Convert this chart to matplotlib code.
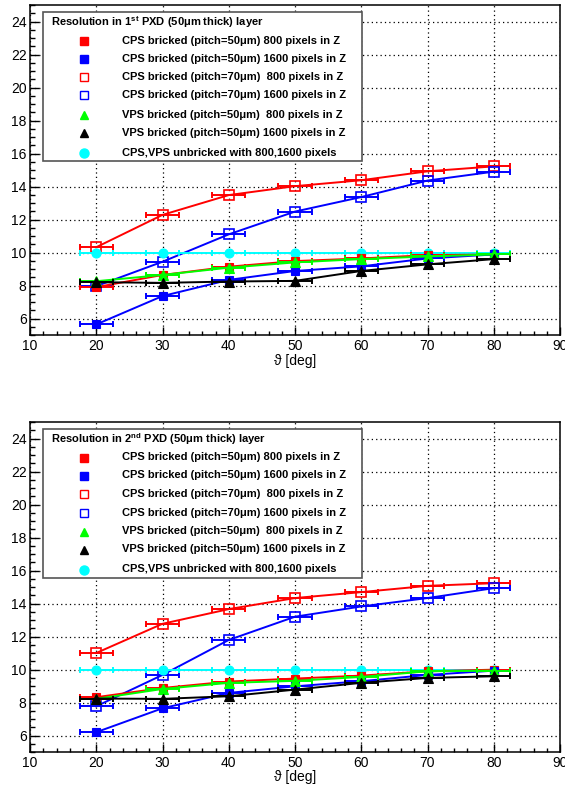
import matplotlib
matplotlib.use('Agg')
import matplotlib.pyplot as plt
from matplotlib.patches import Rectangle
from matplotlib.ticker import MultipleLocator

plt.rcParams['font.family'] = ['Liberation Sans', 'DejaVu Sans']
plt.rcParams['mathtext.fontset'] = 'custom'
plt.rcParams['mathtext.rm'] = 'Liberation Sans'
plt.rcParams['mathtext.bf'] = 'Liberation Sans:bold'

theta = [20, 30, 40, 50, 60, 70, 80]
theta_err = [2.5, 2.5, 2.5, 2.5, 2.5, 2.5, 2.5]

# 1st layer
l1_cps50_800 = [7.9, 8.64, 9.14, 9.48, 9.64, 9.84, 9.88]
l1_cps50_1600 = [5.64, 7.36, 8.34, 8.88, 9.16, 9.64, 9.88]
l1_cps70_800 = [10.32, 12.28, 13.48, 14.02, 14.38, 14.92, 15.22]
l1_cps70_1600 = [7.96, 9.44, 11.1, 12.48, 13.36, 14.36, 14.9]
l1_vps50_800 = [8.26, 8.64, 9.08, 9.4, 9.6, 9.76, 9.88]
l1_vps50_1600 = [8.2, 8.16, 8.24, 8.28, 8.88, 9.28, 9.6]
l1_unbricked = [10.0, 10.0, 10.0, 10.0, 10.0, 10.0, 10.0]

# 2nd layer
l2_cps50_800 = [8.32, 8.88, 9.27, 9.45, 9.63, 9.89, 9.99]
l2_cps50_1600 = [6.2, 7.65, 8.58, 8.98, 9.29, 9.67, 9.93]
l2_cps70_800 = [11.0, 12.77, 13.66, 14.33, 14.69, 15.07, 15.23]
l2_cps70_1600 = [7.77, 9.67, 11.79, 13.2, 13.82, 14.33, 14.93]
l2_vps50_800 = [8.22, 8.82, 9.19, 9.31, 9.55, 9.89, 9.93]
l2_vps50_1600 = [8.24, 8.22, 8.38, 8.78, 9.19, 9.49, 9.59]
l2_unbricked = [10.0, 10.0, 10.0, 10.0, 10.0, 10.0, 10.0]

labels = [
    "CPS bricked (pitch=50\u03bcm) 800 pixels in Z",
    "CPS bricked (pitch=50\u03bcm) 1600 pixels in Z",
    "CPS bricked (pitch=70\u03bcm)  800 pixels in Z",
    "CPS bricked (pitch=70\u03bcm) 1600 pixels in Z",
    "VPS bricked (pitch=50\u03bcm)  800 pixels in Z",
    "VPS bricked (pitch=50\u03bcm) 1600 pixels in Z",
    "CPS,VPS unbricked with 800,1600 pixels",
]
titles = [
    r"Resolution in 1$^{\mathbf{st}}$ PXD (50$\mathbf{\mu}$m thick) layer",
    r"Resolution in 2$^{\mathbf{nd}}$ PXD (50$\mathbf{\mu}$m thick) layer",
]

# style per series: (color, marker, filled, size)
styles = [
    ('#ff0000', 's', True, 6.0),
    ('#0000ff', 's', True, 6.0),
    ('#ff0000', 's', False, 7.5),
    ('#0000ff', 's', False, 7.5),
    ('#00ff00', '^', True, 6.5),
    ('#000000', '^', True, 6.5),
    ('#00ffff', 'o', True, 6.5),
]
draw_order = [2, 3, 6, 0, 1, 4, 5]

fig = plt.figure(figsize=(5.65, 7.85), dpi=100)
W, H = 565.0, 785.0
ax1 = fig.add_axes([30 / W, 1 - 335 / H, 530 / W, 330 / H])
ax2 = fig.add_axes([30 / W, 1 - 752 / H, 530 / W, 330 / H])

datasets = [
    [l1_cps50_800, l1_cps50_1600, l1_cps70_800, l1_cps70_1600, l1_vps50_800, l1_vps50_1600, l1_unbricked],
    [l2_cps50_800, l2_cps50_1600, l2_cps70_800, l2_cps70_1600, l2_vps50_800, l2_vps50_1600, l2_unbricked],
]

for ax, data, title in zip([ax1, ax2], datasets, titles):
    ax.set_xlim(10, 90)
    ax.set_ylim(5, 25)
    ax.xaxis.set_major_locator(MultipleLocator(10))
    ax.xaxis.set_minor_locator(MultipleLocator(2))
    ax.yaxis.set_major_locator(MultipleLocator(2))
    ax.yaxis.set_minor_locator(MultipleLocator(0.5))
    ax.set_yticks([6, 8, 10, 12, 14, 16, 18, 20, 22, 24])
    ax.tick_params(which='major', direction='in', width=1, labelsize=10)
    ax.tick_params(axis='y', which='major', length=6.5, pad=2.5)
    ax.tick_params(axis='y', which='minor', direction='in', length=3.8, width=1)
    ax.tick_params(axis='x', which='major', length=5.8, pad=3)
    ax.tick_params(axis='x', which='minor', direction='in', length=3, width=1)
    ax.grid(True, which='major', color='black', linestyle=(0, (1, 2.5)), linewidth=0.9)
    for sp in ax.spines.values():
        sp.set_linewidth(1.1)
    ax.set_axisbelow(True)

    for z, i in enumerate(draw_order):
        color, marker, filled, ms = styles[i]
        ax.errorbar(theta, data[i], xerr=theta_err, fmt='none', ecolor=color,
                    elinewidth=1.4, capsize=2.5, capthick=1.4, zorder=3 + z)
        ax.plot(theta, data[i], color=color, linewidth=1.4, marker=marker,
                markersize=ms, markerfacecolor=color if filled else 'none',
                markeredgecolor=color, markeredgewidth=1.2 if not filled else 0.8,
                zorder=3 + z)

    ax.text(0.5, -25.5 / 330, "\u03d1 [deg]", transform=ax.transAxes, ha='center',
            va='center', fontsize=10)

    # legend box
    x0, x1 = 13 / 530, 332 / 530
    y_top = 1 - 7 / 330
    y_bot = 1 - 156 / 330
    ax.add_patch(Rectangle((x0, y_bot), x1 - x0, y_top - y_bot, transform=ax.transAxes,
                           facecolor='white', edgecolor='#555555', linewidth=1.2, zorder=20))
    ax.text(21 / 530, 1 - 17.5 / 330, title, transform=ax.transAxes, fontsize=8,
            fontweight='bold', ha='left', va='center', zorder=21)
    rows = [35.5, 53.5, 72, 90.5, 109.5, 127.5, 147.5]
    for i, r in enumerate(rows):
        color, marker, filled, ms = styles[i]
        yy = 1 - r / 330
        ax.plot([54 / 530], [yy], transform=ax.transAxes, marker=marker,
                markersize=ms * 0.85 if marker != 'o' else ms,
                markerfacecolor=color if filled else 'none', markeredgecolor=color,
                markeredgewidth=1.0, linestyle='none', zorder=21, clip_on=False)
        ax.text(92 / 530, yy, labels[i], transform=ax.transAxes, fontsize=8,
                fontweight='bold', ha='left', va='center', zorder=21)

fig.savefig('out.png', dpi=100)
